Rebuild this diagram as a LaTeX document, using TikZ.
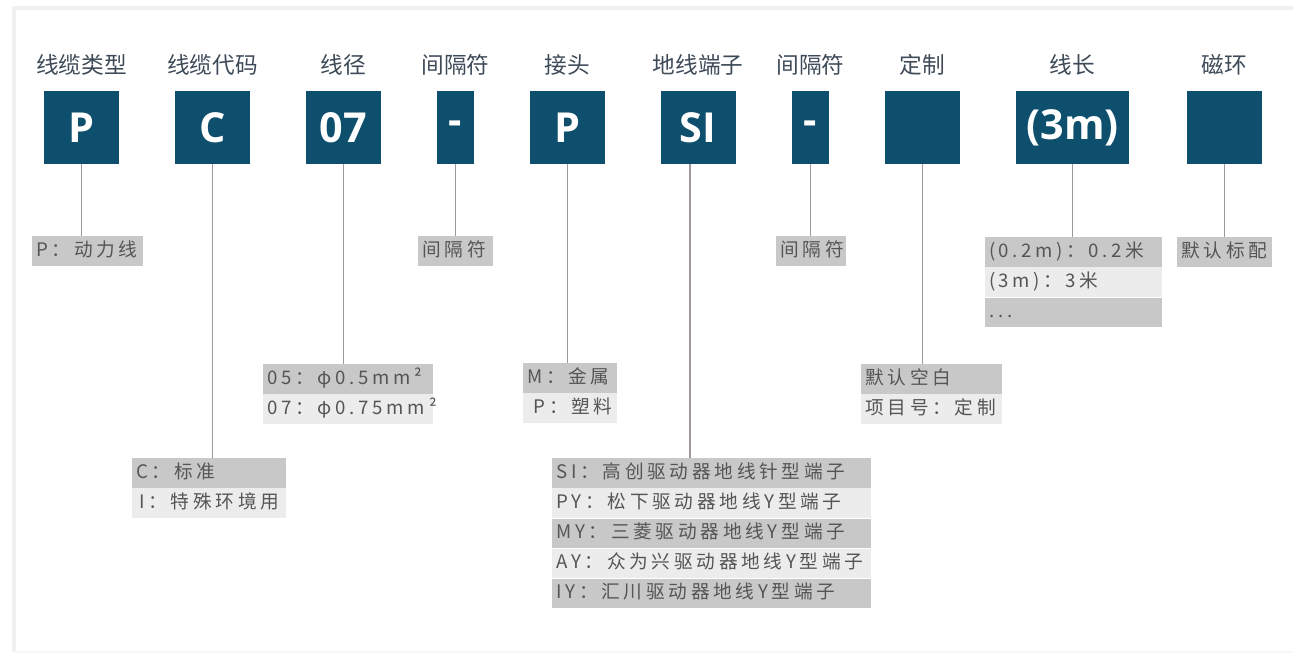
\documentclass[tikz,border=0pt]{standalone}
\usepackage{fontspec}
\setsansfont{Open Sans}
\newfontfamily\cjk{Noto Sans CJK SC}
\newfontfamily\cjksp[LetterSpace=20]{Noto Sans CJK SC}
\usetikzlibrary{positioning}

\definecolor{boxblue}{RGB}{13,79,108}
\definecolor{titlegray}{RGB}{62,74,88}
\definecolor{rowdark}{RGB}{200,200,200}
\definecolor{rowlight}{RGB}{236,236,236}
\definecolor{rowtext}{RGB}{85,85,85}
\definecolor{linegray}{RGB}{160,152,152}

\begin{document}
\begin{tikzpicture}[x=0.75pt, y=-0.75pt,
    code/.style={fill=boxblue, text=white, minimum width=#1, minimum height=54.75pt,
        inner sep=0pt, font=\sffamily\bfseries\fontsize{31}{31}\selectfont},
    title/.style={text=titlegray, font=\cjk\fontsize{17}{17}\selectfont},
    row/.style={anchor=north west, inner xsep=3pt, inner ysep=0pt, text width=#1,
        minimum height=22.2pt, text height=10.5pt, text depth=3pt, align=left,
        text=rowtext, font=\cjksp\fontsize{14}{14}\selectfont},
    dark/.style={row=#1, fill=rowdark},
    light/.style={row=#1, fill=rowlight},
    link/.style={draw=linegray, line width=1pt}]
    \useasboundingbox (0,0) rectangle (1293,656);
    % Khung nền
    \draw[gray!12, line width=2.5pt] (14,652) -- (14,8) -- (1300,8);
    \draw[gray!6, line width=1.5pt] (14,652) -- (1300,652);

    % Tiêu đề
    \node[title] (tP)  at (81.5,65)   {线缆类型};
    \node[title] (tC)  at (212.5,65)  {线缆代码};
    \node[title] (tD)  at (343.5,65)  {线径};
    \node[title] (tS1) at (455.5,65)  {间隔符};
    \node[title] (tM)  at (567.5,65)  {接头};
    \node[title] (tSI) at (698,65)    {地线端子};
    \node[title] (tS2) at (810.5,65)  {间隔符};
    \node[title] (tZ)  at (922.5,65)  {定制};
    \node[title] (tL)  at (1072.5,65) {线长};
    \node[title] (tR)  at (1224.5,65) {磁环};

    % Các ô mã
    \node[code=56.25pt] (bP)  at (81.5,127.5)   {P};
    \node[code=56.25pt] (bC)  at (212.5,127.5)  {C};
    \node[code=56.25pt] (bD)  at (343.5,127.5)  {07};
    \node[code=27.75pt] (bS1) at (455.5,127.5)  {-};
    \node[code=56.25pt] (bM)  at (567.5,127.5)  {P};
    \node[code=56.25pt] (bSI) at (698,127.5)    {SI};
    \node[code=27.75pt] (bS2) at (810.5,127.5)  {-};
    \node[code=56.25pt] (bZ)  at (922.5,127.5)  {};
    \node[code=84.75pt] (bL)  at (1072.5,127.5) {(3m)};
    \node[code=56.25pt] (bR)  at (1224.5,127.5) {};

    % Bảng chú thích
    \node[dark=77pt] (lP) at (32,236) {P：动力线};
    \node[dark=50pt] (lS1) at (418,236) {间隔符};
    \node[dark=121.5pt] (lD1) at (263,364) {05：φ0.5mm²};
    \node[light=121.5pt, below=0pt of lD1] (lD2) {07：φ0.75mm²};
    \node[dark=109.5pt] (lC1) at (132,458) {C：标准};
    \node[light=109.5pt, below=0pt of lC1] (lC2) {\,I：特殊环境用};
    \node[dark=64.5pt] (lM1) at (523,363) {M：金属};
    \node[light=64.5pt, below=0pt of lM1] (lM2) {\,\,P：塑料};
    \node[dark=233pt] (lSI1) at (552,458) {SI：高创驱动器地线针型端子};
    \node[light=233pt, below=0pt of lSI1] (lSI2) {PY：松下驱动器地线Y型端子};
    \node[dark=233pt, below=0pt of lSI2] (lSI3) {MY：三菱驱动器地线Y型端子};
    \node[light=233pt, below=0pt of lSI3] (lSI4) {AY：众为兴驱动器地线Y型端子};
    \node[dark=233pt, below=0pt of lSI4] (lSI5) {IY：汇川驱动器地线Y型端子};
    \node[dark=46.5pt] (lS2) at (776,236) {间隔符};
    \node[dark=99.75pt] (lZ1) at (861,364) {默认空白};
    \node[light=99.75pt, below=0pt of lZ1] (lZ2) {项目号：定制};
    \node[dark=126.75pt] (lL1) at (985,237) {(\,0.2m\,)：0.2米};
    \node[light=126.75pt, below=0pt of lL1] (lL2) {(\,3m\,)：3米};
    \node[dark=126.75pt, below=0pt of lL2] (lL3) {...};
    \node[dark=65.25pt] (lR) at (1177,237) {默认标配};

    % Đường nối
    \coordinate (siFoot) at ([xshift=-6pt]bSI.south);
    \draw[link] (bP.south)  -- (bP.south |- lP.north);
    \draw[link] (bC.south)  -- (bC.south |- lC1.north);
    \draw[link] (bD.south)  -- (bD.south |- lD1.north);
    \draw[link] (bS1.south) -- (bS1.south |- lS1.north);
    \draw[link] (bM.south)  -- (bM.south |- lM1.north);
    \draw[link] (siFoot)    -- (siFoot |- lSI1.north);
    \draw[link] (bS2.south) -- (bS2.south |- lS2.north);
    \draw[link] (bZ.south)  -- (bZ.south |- lZ1.north);
    \draw[link] (bL.south)  -- (bL.south |- lL1.north);
    \draw[link] (bR.south)  -- (bR.south |- lR.north);
\end{tikzpicture}
\end{document}
